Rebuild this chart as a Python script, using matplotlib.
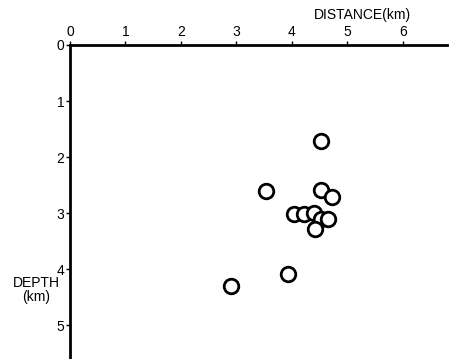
import matplotlib
matplotlib.use("Agg")
import matplotlib.pyplot as plt

# hypocentres: distance (km) and depth (km)
distance = [4.52, 3.53, 4.53, 4.73, 4.04, 4.22, 4.40, 4.53, 4.65, 4.41, 2.90, 3.93]
depth = [1.71, 2.61, 2.59, 2.71, 3.01, 3.01, 2.99, 3.10, 3.11, 3.29, 4.30, 4.09]

x_ticks = [0, 1, 2, 3, 4, 5, 6]
y_ticks = [0, 1, 2, 3, 4, 5]

plt.rcParams['font.family'] = ['Liberation Sans', 'DejaVu Sans']

fig = plt.figure(figsize=(4.49, 3.59), dpi=100)
ax = fig.add_axes([70 / 449, 0.0, 1 - 70 / 449, 1 - 45 / 359])

ax.scatter(distance, depth, s=110, facecolors='white', edgecolors='black',
           linewidths=2, zorder=3, clip_on=False)

ax.set_xlim(0, 6.83)
ax.set_ylim(5.6, 0)

ax.xaxis.tick_top()
ax.set_xticks(x_ticks)
ax.set_yticks(y_ticks)
ax.set_xticklabels([str(t) for t in x_ticks])
ax.set_yticklabels([str(t) for t in y_ticks])
ax.tick_params(axis='both', direction='out', length=3, width=1, labelsize=10, pad=1)

for side in ['right', 'bottom']:
    ax.spines[side].set_visible(False)
for side in ['left', 'top']:
    ax.spines[side].set_linewidth(2)

fig.text(362 / 449, 1 - 15 / 359, 'DISTANCE(km)', ha='center', va='center', fontsize=10)
fig.text(36 / 449, 1 - 290 / 359, 'DEPTH\n(km)', ha='center', va='center',
         fontsize=10, linespacing=1.0)

fig.savefig('out.png', dpi=100)
